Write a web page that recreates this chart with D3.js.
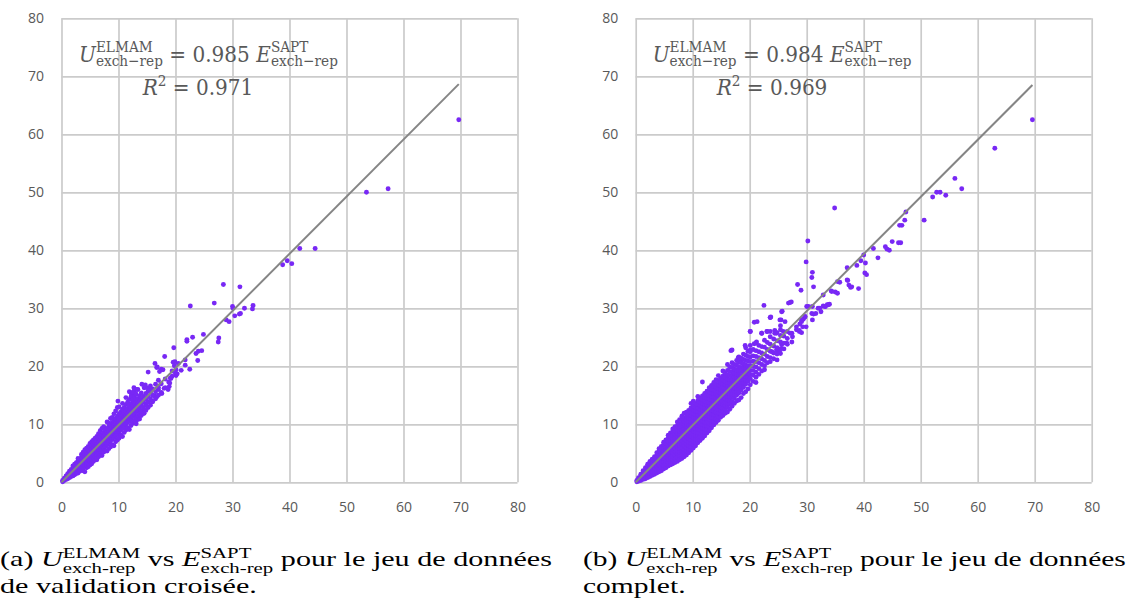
<!DOCTYPE html>
<html>
<head>
<meta charset="utf-8">
<script src="https://cdn.jsdelivr.net/npm/d3@7"></script>
<style>
  body { margin: 0; background: #ffffff; }
  svg { display: block; }
  text { white-space: pre; }
</style>
</head>
<body>
<svg id="fig" width="1128" height="603"></svg>
<script>
// ---- shared axis ticks (both axes, both panels) ----
const tickValues = [0, 10, 20, 30, 40, 50, 60, 70, 80];

// ---- regression results printed on each panel ----
const slopes = [0.985, 0.984];
const r2Values = [0.971, 0.969];
const fitMaxX = [69.7, 69.6];

// ---- (a) cross-validation set: isolated points [E_SAPT, U_ELMAM] ----
const cvSparse = [
  [69.7,62.5],[57.3,50.6],[53.5,50.0],[44.5,40.3],[41.8,40.3],[40.4,37.7],[39.6,38.2],[38.8,37.5],
  [31.3,33.7],[28.4,34.1],[26.8,30.9],[22.6,30.4],[30.0,30.3],[30.1,30.0],[32.1,30.0],[33.6,30.5],
  [33.5,29.9],[31.4,29.1],[31.2,29.0],[30.4,28.7],[28.9,28.0],[29.4,27.7],
  [23.0,25.0],[24.9,25.5],[27.6,24.9],[27.5,24.2],[22.0,24.6],[22.0,24.3],[24.0,22.6],[24.6,22.7],
  [23.6,22.2],[23.9,21.0],[22.5,19.5],[19.7,23.2],[21.7,21.1],[21.7,20.2],
  [19.9,20.8],[20.5,20.5],[19.6,20.7],[19.8,20.1],[20.1,19.4],[20.3,18.7],[20.1,18.4],[21.0,19.3],
  [19.4,19.2],[20.0,18.8],[19.1,18.0],[19.4,18.3],[19.2,17.9],[18.8,17.3],[19.0,17.1],
  [18.1,21.7],[16.4,20.5],[16.8,19.9],[16.7,19.8],[17.5,19.5],[17.8,19.4],[17.2,19.1],[15.2,19.0],
  [18.0,16.2],[17.0,16.0],[18.9,16.5],[18.7,16.0],[17.6,15.3],[16.3,14.9],[16.7,14.7],[15.9,14.0],
  [14.1,16.9],[14.5,16.3],[14.7,16.8],[15.3,16.2],[15.6,15.8],[12.7,16.3],[13.2,16.0],[12.8,15.9],
  [12.5,15.3],[12.2,15.4],[12.7,14.7],[9.9,14.0],[14.1,12.2],[14.4,12.0],[14.5,11.9],[13.2,10.7]
];

// ---- (a) cross-validation set: dense core, one E_SAPT column -> its U_ELMAM values ----
const cvColumns = [
  [0.2,[0.1,0.3]],
  [0.5,[0.3,0.5,0.7]],
  [0.8,[0.5,0.8,1.1]],
  [1.1,[0.6,0.9,1.2,1.5]],
  [1.4,[0.8,1.2,1.5,1.9]],
  [1.7,[1.0,1.4,1.8,2.2]],
  [2.0,[1.1,1.5,1.9,2.3,2.8]],
  [2.3,[1.3,1.8,2.2,2.6,3.1]],
  [2.6,[1.5,2.0,2.5,2.9,3.4]],
  [2.9,[1.6,2.2,2.7,3.2,3.7,4.1]],
  [3.2,[1.9,2.5,3.0,3.5,4.0]],
  [3.5,[2.1,2.7,3.2,3.7,4.3,4.8]],
  [3.8,[2.0,2.6,3.1,3.6,4.1,4.6,5.2]],
  [4.1,[1.8,2.8,3.4,3.9,4.4,5.0,5.6]],
  [4.4,[2.5,3.0,3.6,4.2,4.7,5.3,5.9]],
  [4.7,[2.7,3.3,3.9,4.5,5.0,5.6,6.2]],
  [5.0,[3.0,3.6,4.2,4.8,5.4,6.0,6.7]],
  [5.3,[3.2,3.9,4.5,5.1,5.7,6.3,7.0]],
  [5.6,[3.6,4.2,4.8,5.4,6.0,6.6,7.3]],
  [5.9,[3.9,4.5,5.1,5.7,6.3,6.9,7.6]],
  [6.2,[3.9,4.8,5.4,6.0,6.6,7.2,7.9]],
  [6.5,[4.4,5.1,5.7,6.3,6.9,7.6,8.4]],
  [6.8,[4.7,5.4,6.0,6.6,7.2,7.9,8.9]],
  [7.1,[4.6,5.6,6.3,6.9,7.5,8.2,9.3]],
  [7.4,[5.2,5.9,6.6,7.3,7.9,8.6,9.6]],
  [7.7,[5.5,6.2,6.9,7.6,8.3,9.0]],
  [8.0,[5.4,6.5,7.2,7.9,8.6,9.3,10.4]],
  [8.3,[5.8,6.8,7.5,8.2,8.9,9.6,10.2]],
  [8.6,[6.1,7.1,7.8,8.5,9.2,9.9,11.0]],
  [8.9,[6.5,7.4,8.1,8.8,9.5,10.3,11.2]],
  [9.2,[6.3,7.7,8.4,9.1,9.8,10.6,11.8]],
  [9.5,[7.0,8.0,8.8,9.5,10.2,11.0,12.3]],
  [9.8,[7.3,8.3,9.1,9.8,10.5,11.4,12.9]],
  [10.1,[7.6,8.6,9.4,10.1,10.9,11.8,13.0]],
  [10.4,[8.1,9.0,9.7,10.4,11.2,12.1]],
  [10.7,[7.9,9.3,10.0,10.8,11.6,12.6,13.6]],
  [11.0,[8.6,9.6,10.4,11.1,11.9,12.9]],
  [11.3,[9.0,10.0,10.7,11.5,12.3,13.4,14.6]],
  [11.6,[9.4,10.3,11.1,11.8,12.7,13.8]],
  [11.9,[9.1,10.5,11.4,12.2,13.1,14.3,15.6]],
  [12.2,[9.8,10.9,11.8,12.6,13.6,14.8]],
  [12.5,[10.2,11.3,12.2,13.1,14.2,15.5]],
  [12.8,[10.6,11.7,12.6,13.5,14.7]],
  [13.1,[10.1,11.1,12.1,13.0,14.0,15.2]],
  [13.4,[11.4,12.4,13.4,14.4,16.0]],
  [13.7,[10.9,11.8,12.8,13.9,14.9]],
  [14.0,[11.5,12.3,13.3,14.3,15.4]],
  [14.4,[11.9,12.8,13.8,14.8]],
  [14.8,[12.4,13.3,14.3,15.3,16.4]],
  [15.2,[12.9,13.8,14.9,15.8]],
  [15.6,[13.3,14.4,15.5,16.6]],
  [16.0,[13.9,15.0,16.1]],
  [16.5,[14.4,15.6,16.9]],
  [17.0,[15.0,16.4,17.6]],
  [17.5,[15.5,17.0]],
  [18.2,[16.3,17.8]]
];

// ---- (b) complete set: isolated points [E_SAPT, U_ELMAM] ----
const fullSparse = [
  [69.6,62.5],[63.0,57.6],[56.0,52.4],[57.2,50.6],[52.1,49.2],[52.8,50.0],[53.4,50.0],[54.4,49.5],
  [50.6,45.2],[47.4,46.6],[47.2,45.2],[46.7,44.3],[46.3,44.3],[45.0,41.5],[46.1,41.3],[46.5,41.3],
  [43.8,40.6],[44.1,40.2],[44.5,40.0],[41.7,40.3],[42.5,38.7],[40.0,39.2],[39.5,38.2],[40.3,37.8],
  [38.8,37.4],[40.2,36.1],[40.5,35.8],[37.1,37.0],[34.9,47.3],[30.2,41.6],[29.9,38.0],[31.0,36.2],
  [30.9,35.3],[31.2,33.7],[28.4,34.1],[29.0,33.1],[34.3,33.0],[35.0,32.8],[35.4,32.6],[35.4,34.6],
  [37.1,34.9],[37.4,34.0],[37.9,33.7],[39.1,33.4],[35.8,34.5],[37.2,34.8],[37.7,33.6],[34.4,32.9],
  [32.9,32.3],
  [26.8,30.9],[27.3,31.1],[25.7,29.5],[25.5,28.0],[30.0,30.3],[31.0,30.3],[32.0,30.0],[32.5,29.4],
  [32.9,30.4],[33.3,30.3],[33.6,30.6],[34.0,30.7],[31.2,29.0],[31.6,29.1],[31.0,28.0],[29.7,28.5],
  [29.4,28.1],[29.1,27.7],[28.8,27.3],[29.9,26.8],[28.2,26.8],[28.7,26.2],[29.1,25.8],[27.4,25.7],
  [25.9,26.0],[24.7,25.7],[23.7,28.5],[23.6,26.0],[24.4,26.2],[27.5,25.1],
  [33.8,30.6],[33.2,30.3],[32.3,30.0],[30.9,29.1],[30.3,30.3],[29.7,28.6],[29.1,28.0],[29.3,26.8],
  [28.2,26.3],[28.7,26.0],[27.1,25.7],[27.4,24.2],[26.5,24.0],[25.6,23.7],[25.2,22.6],[24.7,22.8],
  [23.9,22.5],
  [22.5,30.5],[27.1,31.0],[25.6,29.4],[23.6,28.4],[20.8,27.6],[21.3,27.7],[20.1,26.0],[22.1,25.7],
  [23.0,26.0],[24.4,25.7],[25.4,26.3],[25.3,28.0],[26.2,27.7],[20.8,23.9],[21.2,24.2],[19.2,23.6],
  [20.1,22.8],[16.7,22.7],[18.0,21.5],[18.6,21.1]
];

// ---- (b) complete set: dense core, one E_SAPT column -> its U_ELMAM values ----
const fullColumns = [
  [0.2,[0.1,0.3]],
  [0.5,[0.2,0.5,0.8]],
  [0.9,[0.3,0.7,1.1,1.4]],
  [1.3,[0.5,0.9,1.3,1.7,2.0]],
  [1.7,[0.6,1.1,1.6,2.0,2.5]],
  [2.1,[0.8,1.3,1.8,2.3,2.8,3.1]],
  [2.5,[1.0,1.5,2.1,2.6,3.1,3.6]],
  [2.9,[1.2,1.8,2.4,2.9,3.5,4.0]],
  [3.3,[1.4,2.0,2.6,3.2,3.8,4.4]],
  [3.7,[1.6,2.2,2.8,3.4,4.0,4.6,5.1]],
  [4.1,[1.8,2.4,3.0,3.6,4.2,4.8,5.4,5.8]],
  [4.5,[2.0,2.6,3.2,3.8,4.4,5.0,5.6,6.2]],
  [4.9,[2.3,2.9,3.5,4.1,4.7,5.3,5.9,6.5,6.9]],
  [5.3,[2.5,3.1,3.7,4.3,4.9,5.5,6.1,6.7,7.3]],
  [5.7,[2.8,3.4,4.0,4.6,5.2,5.8,6.4,7.0,7.6,8.1]],
  [6.1,[3.0,3.6,4.2,4.8,5.4,6.0,6.6,7.2,7.8,8.5]],
  [6.5,[3.2,3.9,4.5,5.1,5.7,6.3,6.9,7.5,8.1,8.7,9.2]],
  [6.9,[3.4,4.1,4.7,5.3,5.9,6.5,7.1,7.7,8.3,8.9,9.6]],
  [7.3,[3.6,4.3,4.9,5.5,6.1,6.7,7.3,7.9,8.5,9.1,9.7,10.4]],
  [7.7,[3.9,4.6,5.2,5.8,6.4,7.0,7.6,8.2,8.8,9.4,10.0,10.8]],
  [8.1,[4.1,4.8,5.4,6.0,6.6,7.2,7.8,8.4,9.0,9.6,10.2,10.8,11.4]],
  [8.5,[4.4,5.1,5.7,6.3,6.9,7.5,8.1,8.7,9.3,9.9,10.5,11.1,11.9]],
  [8.9,[4.7,5.4,6.0,6.6,7.2,7.8,8.4,9.0,9.6,10.2,10.8,11.4,12.1]],
  [9.3,[5.1,5.7,6.3,6.9,7.5,8.1,8.7,9.3,9.9,10.5,11.1,11.7,12.4]],
  [9.7,[5.5,6.1,6.7,7.3,7.9,8.5,9.1,9.7,10.3,10.9,11.5,12.1,12.8,13.6]],
  [10.1,[5.9,6.5,7.1,7.7,8.3,8.9,9.5,10.1,10.7,11.3,11.9,12.5,13.2,14.0]],
  [10.5,[6.3,6.9,7.5,8.1,8.7,9.3,9.9,10.5,11.1,11.7,12.3,12.9,13.6]],
  [10.9,[6.8,7.4,8.0,8.6,9.2,9.8,10.4,11.0,11.6,12.2,12.8,13.4,14.1,14.8]],
  [11.3,[7.2,7.8,8.4,9.0,9.6,10.2,10.8,11.4,12.0,12.6,13.2,13.8,14.5]],
  [11.7,[7.6,8.2,8.8,9.4,10.0,10.6,11.2,11.8,12.4,13.0,13.6,14.2,14.9,17.3]],
  [12.1,[8.0,8.6,9.2,9.8,10.4,11.0,11.6,12.2,12.8,13.4,14.0,14.6,15.3]],
  [12.5,[8.5,9.1,9.7,10.3,10.9,11.5,12.1,12.7,13.3,13.9,14.5,15.1,15.7]],
  [12.9,[8.9,9.6,10.2,10.8,11.4,12.0,12.6,13.2,13.8,14.4,15.0,15.6,16.3]],
  [13.3,[9.4,10.0,10.6,11.2,11.8,12.4,13.0,13.6,14.2,14.8,15.4,16.0,16.7]],
  [13.7,[9.9,10.5,11.1,11.7,12.3,12.9,13.5,14.1,14.7,15.3,15.9,16.5,17.2]],
  [14.1,[10.3,10.9,11.5,12.1,12.7,13.3,13.9,14.5,15.1,15.7,16.3,16.9,17.7]],
  [14.5,[10.7,11.4,12.0,12.6,13.2,13.8,14.4,15.0,15.6,16.2,16.8,17.5,18.4]],
  [14.9,[11.2,11.8,12.4,13.0,13.6,14.2,14.8,15.4,16.0,16.6,17.2,17.9]],
  [15.3,[11.5,12.2,12.8,13.4,14.0,14.6,15.2,15.8,16.4,17.0,17.6,18.3,19.2]],
  [15.7,[11.9,12.6,13.2,13.8,14.4,15.0,15.6,16.2,16.8,17.4,18.1,18.8]],
  [16.1,[12.1,13.0,13.6,14.2,14.8,15.4,16.0,16.6,17.2,17.8,18.5,19.3,20.3]],
  [16.5,[12.6,13.5,14.1,14.7,15.3,15.9,16.5,17.1,17.7,18.4,19.1,19.9]],
  [16.9,[13.1,13.9,14.6,15.2,15.8,16.4,17.0,17.6,18.3,19.0,19.8,20.6,22.8]],
  [17.3,[13.6,14.5,15.1,15.7,16.3,16.9,17.5,18.1,18.8,19.5,20.3]],
  [17.7,[14.0,15.0,15.6,16.2,16.8,17.4,18.0,18.7,19.4,20.2,21.0]],
  [18.1,[14.2,15.4,16.1,16.7,17.3,17.9,18.5,19.2,19.9,20.7,21.6]],
  [18.5,[14.6,15.9,16.6,17.2,17.8,18.4,19.1,19.8,20.6,21.4]],
  [18.9,[15.3,16.4,17.1,17.7,18.3,19.0,19.7,20.4,21.2,22.1]],
  [19.3,[15.6,16.9,17.6,18.2,18.8,19.5,20.2,21.0,21.9,23.2]],
  [19.7,[16.1,17.4,18.1,18.8,19.4,20.1,20.9,21.7,22.6]],
  [20.1,[16.8,17.9,18.6,19.3,20.0,20.8,21.6,22.5,23.6,26.0]],
  [20.6,[17.4,18.5,19.3,20.1,20.9,21.8,22.9]],
  [21.1,[17.2,18.1,19.0,19.9,20.8,21.7,22.7,24.0]],
  [21.6,[18.6,19.6,20.6,21.5,22.5,23.6]],
  [22.1,[19.2,20.3,21.3,22.3,23.4,25.7]],
  [22.6,[19.4,20.1,21.0,22.1,23.3,24.5]],
  [23.1,[20.6,21.7,22.9,24.1,26.0]],
  [23.6,[20.8,21.5,22.6,23.8,25.1,28.4]],
  [24.2,[21.3,22.3,23.5,24.7]],
  [24.8,[21.1,22.1,23.2,24.4,25.8]],
  [25.4,[22.2,23.0,24.2,25.3,27.0]],
  [26.0,[23.0,24.0,25.2]],
  [26.6,[23.8,24.8,26.0]]
];

// ---- captions ----
const captionLetters = ['(a) ', '(b) '];
const captionTails = ['de validation croisée.', 'complet.'];

// ---------------------------------------------------------------------------
const svg = d3.select('#fig');
const POINT = '#7828f5';
const GRID = '#cbcbcb';
const LABEL = '#595959';

const panels = [
  { left: 61.5, sparse: cvSparse, columns: cvColumns, eqX: 79, r2X: 142.7, capX: 0, capW: 552 },
  { left: 635.7, sparse: fullSparse, columns: fullColumns, eqX: 652.7, r2X: 716.7, capX: 583, capW: 543 }
];
const plotTop = 18.3, plotBottom = 482.3, plotWidth = 456;

function expand(sparse, columns) {
  const pts = sparse.map(d => ({ x: d[0], y: d[1] }));
  columns.forEach(([x, ys]) => ys.forEach(y => pts.push({ x, y })));
  return pts;
}

// lays out a run of math pieces {t, it, sup, sub} starting at x on baseline y
function mathRun(g, x, y, parts, o) {
  let cx = x;
  const put = (txt, px, py, size, italic) => {
    const el = g.append('text')
      .attr('x', px).attr('y', py)
      .attr('font-family', o.family)
      .attr('font-size', size)
      .attr('font-style', italic ? 'italic' : 'normal')
      .attr('fill', o.color)
      .text(txt);
    return el.node().getComputedTextLength();
  };
  parts.forEach(p => {
    cx += put(p.t, cx, y, o.size, p.it);
    if (p.sup || p.sub) {
      let w = 0;
      if (p.sup) w = Math.max(w, put(p.sup, cx, y + o.supDy * o.size, o.script, false));
      if (p.sub) w = Math.max(w, put(p.sub, cx, y + o.subDy * o.size, o.script, false));
      cx += w;
    }
  });
  return cx - x;
}

// horizontal squeeze/stretch about x
function hScale(g, x, k) {
  g.attr('transform', `translate(${x},0) scale(${k},1) translate(${-x},0)`);
}

// draws a run and stretches it horizontally to a target width; returns the factor
function fittedRun(parent, x, y, parts, o, target) {
  const g = parent.append('g');
  const w = mathRun(g, x, y, parts, o);
  const k = target / w;
  hScale(g, x, k);
  return k;
}

panels.forEach((p, i) => {
  const x = d3.scaleLinear().domain([0, 80]).range([p.left, p.left + plotWidth]);
  const y = d3.scaleLinear().domain([0, 80]).range([plotBottom, plotTop]);
  const g = svg.append('g');

  // gridlines + tick labels
  const gx = g.append('g').attr('transform', `translate(0,${plotBottom})`)
    .call(d3.axisBottom(x).tickValues(tickValues).tickSize(-(plotBottom - plotTop)).tickPadding(19.5));
  const gy = g.append('g').attr('transform', `translate(${p.left},0)`)
    .call(d3.axisLeft(y).tickValues(tickValues).tickSize(-plotWidth).tickPadding(17.5));
  [gx, gy].forEach(a => {
    a.select('.domain').remove();
    a.selectAll('line').attr('stroke', GRID).attr('stroke-width', 1.7);
    a.selectAll('text').attr('fill', LABEL).attr('font-family', '"Open Sans", sans-serif').attr('font-size', 14);
  });

  // points
  g.append('g').selectAll('circle')
    .data(expand(p.sparse, p.columns))
    .join('circle')
    .attr('cx', d => x(d.x))
    .attr('cy', d => y(d.y))
    .attr('r', 2.45)
    .attr('fill', POINT);

  // linear fit through the origin
  g.append('line')
    .attr('x1', x(0)).attr('y1', y(0))
    .attr('x2', x(fitMaxX[i])).attr('y2', y(slopes[i] * fitMaxX[i]))
    .attr('stroke', '#858585').attr('stroke-width', 2);

  // fit equation
  const eqOpts = { family: '"DejaVu Serif", serif', color: LABEL, size: 22, script: 15, supDy: -0.46, subDy: 0.17 };
  const kEq = fittedRun(g, p.eqX, 62, [
    { t: 'U', it: true, sup: 'ELMAM', sub: 'exch−rep' },
    { t: ' = ' + slopes[i].toFixed(3) + ' ' },
    { t: 'E', it: true, sup: 'SAPT', sub: 'exch−rep' }
  ], eqOpts, 259);
  const r2g = g.append('g');
  mathRun(r2g, p.r2X, 95, [
    { t: 'R', it: true, sup: '2' },
    { t: ' = ' + r2Values[i].toFixed(3) }
  ], Object.assign({}, eqOpts, { supDy: -0.4 }));
  hScale(r2g, p.r2X, kEq);

  // caption
  const capOpts = { family: '"Liberation Serif", serif', color: '#000000', size: 21, script: 14.5, supDy: -0.4, subDy: 0.32 };
  const kCap = fittedRun(svg, p.capX, 566, [
    { t: captionLetters[i] },
    { t: 'U', it: true, sup: 'ELMAM', sub: 'exch-rep' },
    { t: ' vs ' },
    { t: 'E', it: true, sup: 'SAPT', sub: 'exch-rep' },
    { t: ' pour le jeu de données' }
  ], capOpts, p.capW);
  const tail = svg.append('g');
  mathRun(tail, p.capX, 593, [{ t: captionTails[i] }], capOpts);
  hScale(tail, p.capX, kCap);
});
</script>
</body>
</html>
